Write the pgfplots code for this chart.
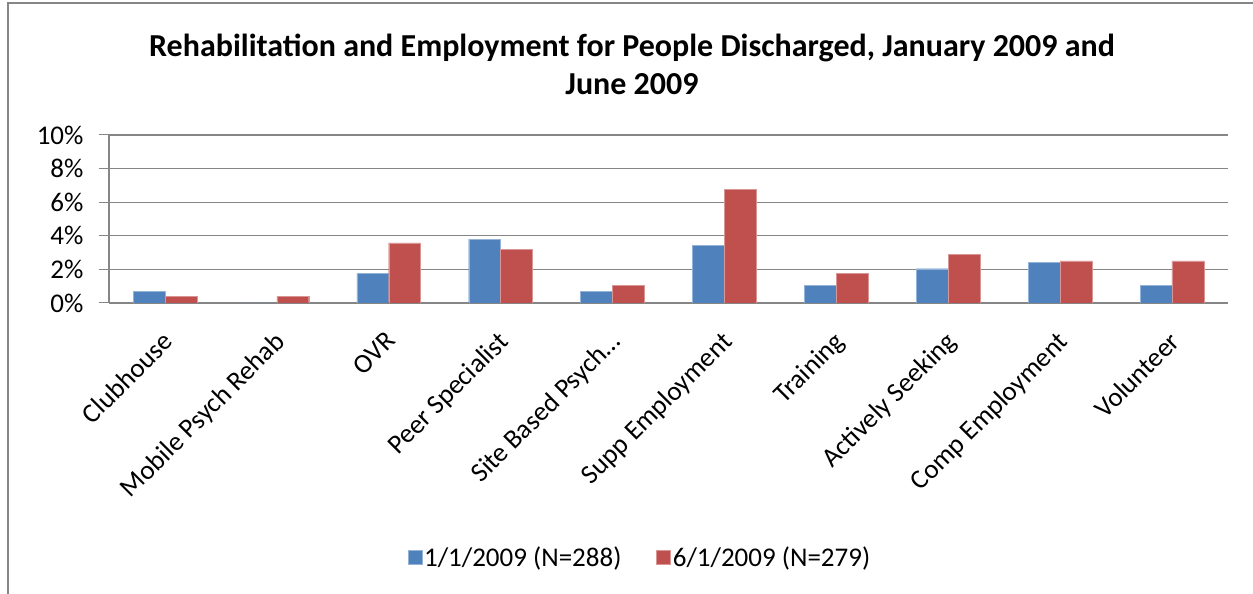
\documentclass[border=0pt]{standalone}
\usepackage{fontspec}
\setmainfont{Carlito}
\usepackage{pgfplots}
\pgfplotsset{compat=1.18}
\definecolor{xlblue}{HTML}{4F81BD}
\definecolor{xlred}{HTML}{C0504D}
\definecolor{xlgrid}{HTML}{868686}
\begin{document}
\begin{tikzpicture}
\path[use as bounding box] (0pt,0pt) rectangle (1253pt,594pt);
\draw[xlgrid, line width=2pt] (8pt,0pt) -- (8pt,591pt) -- (1253pt,591pt);
\node[align=center, font=\fontsize{32}{38}\selectfont\bfseries] at (632pt,530pt)
  {Rehabilitation and Employment for People Discharged, January 2009 and\\June 2009};
\begin{axis}[
  at={(109pt,291pt)}, anchor=south west,
  scale only axis, width=1119pt, height=168pt,
  xmin=-0.5, xmax=9.5, ymin=0, ymax=10,
  ytick={0,2,4,6,8,10},
  yticklabel={\pgfmathprintnumber{\tick}\%},
  /pgf/number format/assume math mode=true,
  xtick={0,...,9},
  xticklabels={Clubhouse,Mobile Psych Rehab,OVR,Peer Specialist,Site Based Psych\dots,Supp Employment,Training,Actively Seeking,Comp Employment,Volunteer},
  xticklabel style={xshift=-4pt, yshift=-14pt, rotate=45, anchor=north east, inner sep=2pt, font=\fontsize{27}{30}\selectfont},
  yticklabel style={font=\fontsize{27}{30}\selectfont, xshift=-12pt},
  extra x ticks={-0.5,0.5,...,9.5},
  extra x tick labels={},
  extra x tick style={major tick length=10pt, tick style={xlgrid, line width=1pt}, tick align=outside, grid=none},
  major x tick style={draw=none},
  ymajorgrids, grid style={xlgrid, line width=1.2pt},
  ytick style={xlgrid, line width=1pt}, major tick length=10pt, tick align=outside,
  axis line style={xlgrid, line width=1.2pt},
  axis x line*=bottom, axis y line*=left,
  ybar, bar width=0.285,
  legend style={at={(0.4745,-1.512)}, anchor=center, draw=none, legend columns=2,
    font=\fontsize{27}{30}\selectfont, /tikz/every even column/.append style={column sep=33pt}},
  legend image code/.code={\fill[#1] (0pt,-7pt) rectangle (14pt,7pt);},
]
\addplot[fill=xlblue, draw=xlblue!60!white, bar shift=-0.1425] coordinates {
(0,0.69) (1,0) (2,1.76) (3,3.80) (4,0.69) (5,3.43) (6,1.07) (7,2.04) (8,2.44) (9,1.07)};
\addplot[fill=xlred, draw=xlred!60!white, bar shift=0.1425] coordinates {
(0,0.40) (1,0.40) (2,3.58) (3,3.21) (4,1.07) (5,6.77) (6,1.76) (7,2.89) (8,2.51) (9,2.51)};
\legend{1/1/2009 (N=288),6/1/2009 (N=279)}
\end{axis}
\end{tikzpicture}
\end{document}
